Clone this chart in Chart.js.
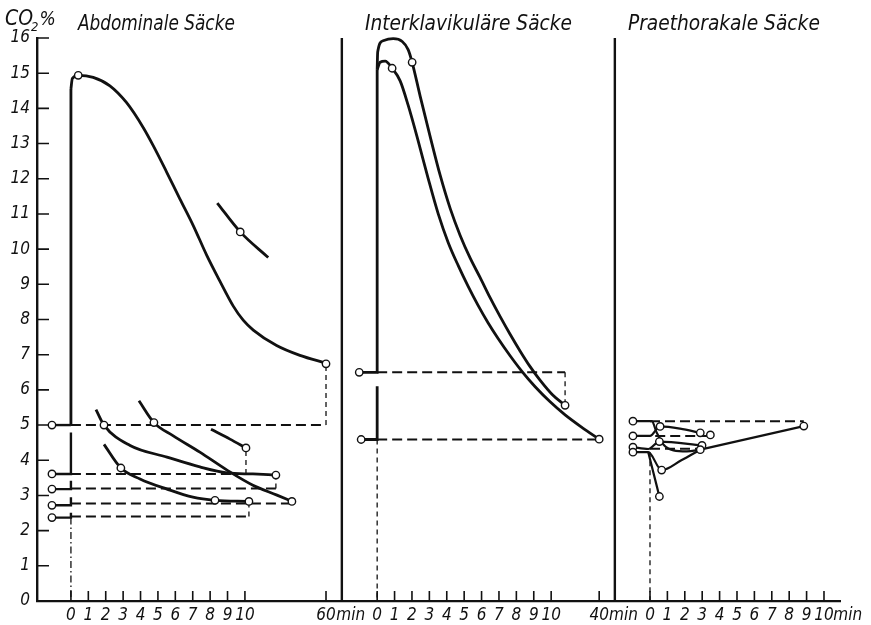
<!DOCTYPE html>
<html>
<head>
<meta charset="utf-8">
<title>CO2 in den Luftsäcken</title>
<script src="https://cdn.jsdelivr.net/npm/chart.js@4.4.1/dist/chart.umd.min.js"></script>
<style>
  html, body { margin: 0; padding: 0; background: #fff; }
  #wrap { width: 871px; height: 625px; }
</style>
</head>
<body>
<div id="wrap"><canvas id="chart"></canvas></div>
<script>
const FONT = '"Liberation Sans Narrow", "DejaVu Sans Condensed", sans-serif';
const INK = '#111';

// three panels share one x axis, each one starts at its own offset
const panelStart = [0, 17.6, 33.28];
const dividerX = [15.57, 31.26];
const panelTitles = ['Abdominale Säcke', 'Interklavikuläre Säcke', 'Praethorakale Säcke'];
const titleShift = [0.4, -0.7, -1.27];
const titleWidth = [157, 207, 192];

// tick labels
const minuteLabels = ['0', '1', '2', '3', '4', '5', '6', '7', '8', '9', '10'];
const breakLabels = ['60', '40'];
const breakPos = [14.66, 12.76];   // where the broken axis puts 60 / 40 min
const unitLabel = 'min';
const unitGap = [1.42, 1.4, 1.36];

// --- Abdominale Säcke (min, CO2 %) ---
const abdRise = [[0, 5.0], [0, 14.55]];
const abdMain = [[0, 14.55], [0.08, 14.85], [0.42, 14.94], [1.28, 14.88], [2.24, 14.64], [3.2, 14.16],
  [4.16, 13.45], [4.73, 12.94], [5.5, 12.19], [6.26, 11.43], [7.03, 10.67], [7.8, 9.83], [8.56, 9.09],
  [9.33, 8.38], [9.9, 7.98], [10.48, 7.7], [11.82, 7.26], [13.16, 6.98], [14.66, 6.76]];
const abdUpper = [[8.41, 11.31], [9.73, 10.49], [11.34, 9.76]];
const abdA = [[1.44, 5.44], [1.9, 5.0], [3.4, 4.42], [5.52, 4.09], [7.41, 3.81], [8.97, 3.64], [10.46, 3.61], [11.78, 3.58]];
const abdB = [[3.91, 5.69], [4.77, 5.07], [5.86, 4.7], [7.41, 4.23], [8.97, 3.72], [10.46, 3.29], [11.84, 3.01], [12.7, 2.83]];
const abdC = [[1.9, 4.45], [2.87, 3.78], [3.97, 3.47], [5.52, 3.18], [7.01, 2.95], [8.28, 2.86], [10.23, 2.83]];
const abdD = [[8.05, 4.88], [9.14, 4.6], [10.06, 4.35]];
const abdStart = [[[-1.09, 5.0], [0, 5.0]], [[-1.09, 3.61], [0, 3.61], [0, 4.79]], [[-1.09, 3.18], [0, 3.18], [0, 3.42]],
  [[-1.09, 2.72], [0, 2.72], [0, 2.95]], [[-1.09, 2.37], [0, 2.37], [0, 2.51]]];
const abdDashed = [[[0, 5.0], [14.66, 5.0]], [[0, 3.61], [10.06, 3.61]], [[0, 3.2], [11.78, 3.2]],
  [[0, 2.77], [12.6, 2.77]], [[0, 2.4], [10.23, 2.4]]];
const abdDrop = [[[14.66, 5.0], [14.66, 6.74]], [[10.06, 3.61], [10.06, 4.35]], [[11.78, 3.2], [11.78, 3.58]], [[10.23, 2.4], [10.23, 2.83]]];
const abdBase = [[0, 2.37], [0, 0]];
const abdPoints = [[-1.09, 5.0], [-1.09, 3.61], [-1.09, 3.18], [-1.09, 2.72], [-1.09, 2.37], [0.42, 14.94], [14.66, 6.74],
  [9.73, 10.49], [1.9, 5.0], [4.77, 5.07], [2.87, 3.78], [8.28, 2.86], [10.23, 2.83], [10.06, 4.35], [11.78, 3.58], [12.7, 2.83]];

// --- Interklavikuläre Säcke ---
const intRiseA = [[-1.03, 6.5], [0, 6.5], [0, 15.1]];
const intRiseB = [[-0.92, 4.59], [0, 4.59], [0, 6.1]];
const intOuter = [[0, 15.1], [0.03, 15.6], [0.34, 15.92], [0.92, 15.98], [1.44, 15.9], [1.78, 15.67], [2.01, 15.31],
  [2.47, 14.35], [3.05, 13.19], [3.62, 12.1], [4.2, 11.15], [4.77, 10.39], [5.34, 9.75], [5.92, 9.19], [6.49, 8.62],
  [7.07, 8.08], [7.64, 7.58], [8.22, 7.1], [8.79, 6.66], [9.37, 6.27], [10.06, 5.87], [10.8, 5.56]];
const intInner = [[0, 15.1], [0.17, 15.31], [0.46, 15.34], [0.86, 15.14], [1.32, 14.78], [1.78, 14.09], [2.36, 13.07],
  [2.93, 12.01], [3.51, 11.0], [4.08, 10.19], [4.66, 9.53], [5.23, 8.94], [5.8, 8.4], [6.38, 7.9], [6.95, 7.46],
  [7.64, 6.97], [8.33, 6.52], [9.08, 6.09], [9.94, 5.66], [10.8, 5.29], [11.78, 4.93], [12.76, 4.6]];
const intDashed = [[[0, 6.5], [10.8, 6.5]], [[0, 4.59], [12.76, 4.59]]];
const intDrop = [[[10.8, 6.5], [10.8, 5.56]], [[0, 4.59], [0, 0]]];
const intPoints = [[-1.03, 6.5], [-0.92, 4.59], [0.86, 15.14], [2.01, 15.31], [10.8, 5.56], [12.76, 4.6]];

// --- Praethorakale Säcke ---
const prLines = [
  [[-0.98, 5.11], [0.1, 5.11], [0.39, 4.78], [0.77, 4.45], [1.35, 4.28], [2.12, 4.25], [2.89, 4.3]],
  [[-0.98, 4.69], [0, 4.69], [0.58, 4.96], [1.73, 4.9], [2.89, 4.78]],
  [[-0.98, 4.37], [-0.1, 4.32], [0.54, 4.53], [2.99, 4.42]],
  [[-0.98, 4.23], [-0.1, 4.23], [0.67, 3.72], [1.8, 4.0], [2.89, 4.3]],
  [[-0.1, 4.23], [0.54, 2.97]],
  [[2.89, 4.3], [8.84, 4.97]]
];
const prDashed = [[[0, 5.11], [8.84, 5.11]], [[0.3, 4.69], [3.47, 4.69]], [[0, 4.33], [2.95, 4.33]]];
const prDrop = [[[0, 4.23], [0, 0]]];
const prPoints = [[-0.98, 5.11], [-0.98, 4.69], [-0.98, 4.37], [-0.98, 4.23], [0.58, 4.96], [0.54, 4.53], [0.67, 3.72],
  [0.54, 2.97], [2.89, 4.78], [3.47, 4.72], [2.99, 4.42], [2.89, 4.3], [8.84, 4.97]];

function pts(panel, arr) {
  return arr.map(([x, y]) => ({ x: panelStart[panel] + x, y: y }));
}
// smooth curves use monotone cubic, straight pieces get no interpolation
function solid(panel, arr, w, smooth) {
  return { data: pts(panel, arr), showLine: true, borderColor: INK, borderWidth: w || 2.8,
    cubicInterpolationMode: smooth === false ? 'default' : 'monotone', tension: 0,
    pointRadius: 0, clip: false, order: 2 };
}
function dashed(panel, arr) {
  return { data: pts(panel, arr), showLine: true, borderColor: INK, borderWidth: 2, borderDash: [10, 5],
    tension: 0, pointRadius: 0, clip: false, order: 2 };
}
function thin(panel, arr, dash) {
  return { data: pts(panel, arr), showLine: true, borderColor: INK, borderWidth: 1.3, borderDash: dash || [5, 4],
    tension: 0, pointRadius: 0, clip: false, order: 2 };
}
function dots(panel, arr) {
  return { data: pts(panel, arr), showLine: false, pointRadius: 3.7, pointBorderWidth: 1.4,
    pointBackgroundColor: '#fff', pointBorderColor: INK, clip: false, order: 0 };
}

const datasets = [
  dots(0, abdPoints), dots(1, intPoints), dots(2, prPoints),
  solid(0, abdRise, 2.8, false), solid(0, abdMain), solid(0, abdUpper), solid(0, abdA), solid(0, abdB),
  solid(0, abdC), solid(0, abdD)
];
abdStart.forEach(a => datasets.push(solid(0, a, 2.4, false)));
abdDashed.forEach(a => datasets.push(dashed(0, a)));
abdDrop.forEach(a => datasets.push(thin(0, a)));
datasets.push(thin(0, abdBase, [7, 3, 1.5, 3]));

datasets.push(solid(1, intRiseA, 2.8, false), solid(1, intRiseB, 2.8, false), solid(1, intOuter), solid(1, intInner));
intDashed.forEach(a => datasets.push(dashed(1, a)));
intDrop.forEach(a => datasets.push(thin(1, a)));

prLines.forEach(a => datasets.push(solid(2, a, 2.2)));
prDashed.forEach(a => datasets.push(dashed(2, a)));
prDrop.forEach(a => datasets.push(thin(2, a)));

dividerX.forEach(d => datasets.push({ data: [{ x: d, y: 0 }, { x: d, y: 16 }], showLine: true,
  borderColor: INK, borderWidth: 2.4, pointRadius: 0, clip: false, order: 3 }));

// x ticks: minutes of each panel, the broken-axis tick, and the "min" unit
const xTicks = [];
panelStart.forEach((start, p) => {
  minuteLabels.forEach((l, i) => xTicks.push({ pos: start + i, label: l, mark: true }));
  let last = start + 10;
  if (p < breakLabels.length) {
    last = start + breakPos[p];
    xTicks.push({ pos: last, label: breakLabels[p], mark: true });
  }
  xTicks.push({ pos: last + unitGap[p], label: unitLabel, mark: false });
});

const innerTicks = {
  id: 'innerTicks',
  afterDatasetsDraw(chart) {
    const { ctx, chartArea, scales: { x, y } } = chart;
    ctx.save();
    ctx.strokeStyle = INK;
    ctx.lineWidth = 1.6;
    ctx.beginPath();
    xTicks.filter(t => t.mark).forEach(t => {
      const px = x.getPixelForValue(t.pos);
      ctx.moveTo(px, chartArea.bottom);
      ctx.lineTo(px, chartArea.bottom - 10);
    });
    for (let v = 1; v <= 16; v++) {
      const py = y.getPixelForValue(v);
      ctx.moveTo(chartArea.left, py);
      ctx.lineTo(chartArea.left + 12, py);
    }
    ctx.stroke();
    ctx.restore();
  },
  afterDraw(chart) {
    const { ctx, scales: { x } } = chart;
    ctx.save();
    ctx.fillStyle = INK;
    ctx.textBaseline = 'alphabetic';
    ctx.font = 'italic 21px ' + FONT;
    panelTitles.forEach((t, i) => {
      const left = x.getPixelForValue(panelStart[i] + titleShift[i]);
      const sx = titleWidth[i] / ctx.measureText(t).width;
      ctx.save();
      ctx.translate(left, 30);
      ctx.scale(sx, 1);
      ctx.fillText(t, 0, 0);
      ctx.restore();
    });
    // CO2 % over the y axis
    ctx.font = 'italic 21px ' + FONT;
    ctx.fillText('CO', 5, 25);
    let cx = 5 + ctx.measureText('CO').width;
    ctx.font = 'italic 13px ' + FONT;
    ctx.fillText('2', cx - 2, 31);
    cx += ctx.measureText('2').width;
    ctx.font = 'italic 19px ' + FONT;
    ctx.fillText('%', cx - 1, 25);
    ctx.restore();
  }
};

new Chart(document.getElementById('chart'), {
  type: 'scatter',
  data: { datasets: datasets },
  plugins: [innerTicks],
  options: {
    responsive: true,
    maintainAspectRatio: false,
    animation: false,
    devicePixelRatio: 1,
    layout: { padding: { top: 38, right: 31, bottom: 0, left: 0 } },
    plugins: { legend: { display: false }, tooltip: { enabled: false } },
    scales: {
      x: {
        type: 'linear',
        min: -1.95,
        max: 44.2,
        afterBuildTicks: scale => { scale.ticks = xTicks.map(t => ({ value: t.pos })); },
        afterFit: scale => { scale.height = 24; },
        grid: { display: false, drawTicks: false },
        border: { display: true, color: INK, width: 2.2 },
        ticks: {
          autoSkip: false, maxRotation: 0, padding: 4, color: INK,
          font: { family: FONT, size: 17, style: 'italic' },
          callback: (v, i) => xTicks[i].label
        }
      },
      y: {
        min: 0,
        max: 16,
        afterFit: scale => { scale.width = 37; },
        grid: { display: false, drawTicks: false },
        border: { display: true, color: INK, width: 2.4 },
        ticks: {
          stepSize: 1, padding: 7, color: INK,
          font: { family: FONT, size: 17, style: 'italic' }
        }
      }
    }
  }
});
</script>
</body>
</html>
